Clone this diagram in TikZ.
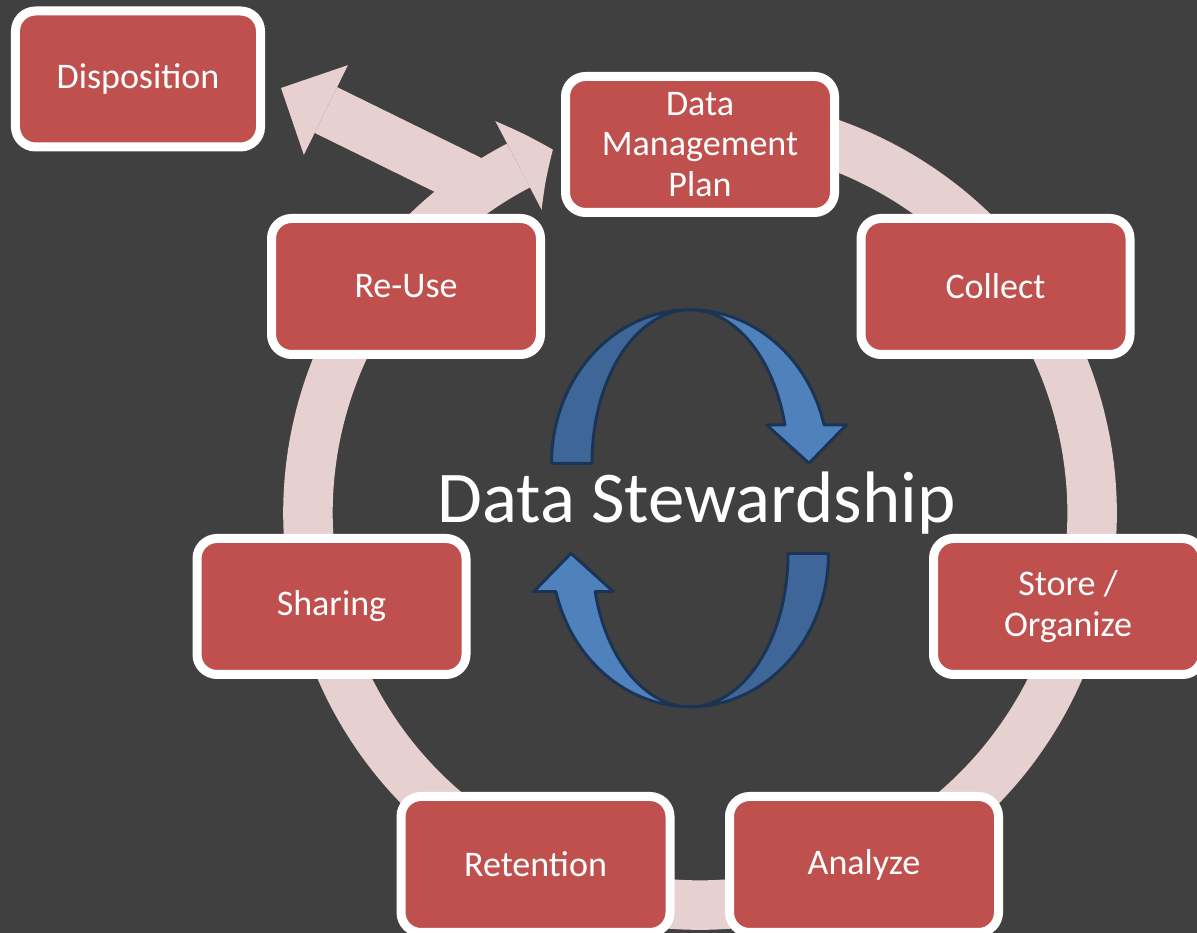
\documentclass[tikz,border=0pt]{standalone}
\usepackage{fontspec}
\setmainfont{Carlito}
\usepackage{tikz}
\usetikzlibrary{positioning,arrows.meta,bending}
\definecolor{slide}{RGB}{64,64,64}
\definecolor{boxred}{RGB}{192,80,77}
\definecolor{ringpink}{RGB}{230,208,208}
\definecolor{swirllight}{RGB}{79,129,189}
\definecolor{swirldark}{RGB}{62,102,153}
\definecolor{swirlline}{RGB}{28,52,84}
\tikzset{
  stagebox/.style={draw=white, line width=0.18cm, fill=boxred, rounded corners=0.4cm,
    minimum width=5.38cm, minimum height=2.72cm, inner sep=0pt, align=center,
    text=white, font=\fontsize{20.5}{23}\selectfont},
  ring/.style={draw=ringpink, line width=0.99cm,
    -{Triangle[length=0.76cm,width=2cm,line width=0pt,bend]}},
  branch/.style={draw=ringpink, line width=1.02cm,
    -{Triangle[length=1cm,width=2cm,line width=0pt]}},
  swirl/.style={draw=swirlline, line width=0.06cm, line join=round},
  title/.style={text=white, font=\fontsize{41.5}{48}\selectfont, inner sep=0pt}
}

\begin{document}
\begin{tikzpicture}[node distance=3cm, on grid]
  \useasboundingbox (0,0) rectangle (23.94,18.66);
  \fill[slide] (0,0) rectangle (23.94,18.66);

  % ring round the stages
  \coordinate (hub) at (14.00,8.40);
  \draw[ring] ([shift={(105:7.84)}]hub) arc[start angle=105, end angle=-247.95, radius=7.84cm];

  % stages
  \node[stagebox]                     (b_0) at (14.00,15.77)                       {Data\\Management\\Plan};
  \node[stagebox]                     (b_6) [below left=2.84cm and 5.88cm of b_0]  {Re-Use};
  \node[stagebox]                     (b_1) [right=11.79cm of b_6]                 {Collect};
  \node[stagebox]                     (b_5) [below left=6.40cm and 1.49cm of b_6]  {Sharing};
  \node[stagebox]                     (b_2) [right=14.73cm of b_5]                 {Store /\\Organize};
  \node[stagebox]                     (b_4) [below right=5.16cm and 4.08cm of b_5] {Retention};
  \node[stagebox]                     (b_3) [right=6.57cm of b_4]                  {Analyze};
  \node[stagebox,minimum width=4.9cm] (b_7) [above left=1.31cm and 11.24cm of b_0] {Disposition};

  % branch off to disposition
  \coordinate (fork) at (9.57,14.96);
  \coordinate[below right=0.18cm and 0.32cm of b_7.east] (b_7in);
  \draw[branch] (fork) -- (b_7in);

  % the two curved arrows in the middle
  \foreach \rot in {0,180} {
    \begin{scope}[shift={(13.80,8.494)}, rotate=\rot]
      \filldraw[swirl, fill=swirldark] (-2.77,0.9)
        arc[start angle=180, end angle=90, x radius=2.77cm, y radius=3.07cm]
        arc[start angle=90, end angle=180, x radius=1.96cm, y radius=3.07cm] -- cycle;
      \filldraw[swirl, fill=swirllight] (0,3.97)
        arc[start angle=90, end angle=14.5, x radius=2.77cm, y radius=3.07cm]
        -- (3.13,1.669) -- (2.38,0.9) -- (1.53,1.669) -- (1.897,1.669)
        arc[start angle=14.5, end angle=90, x radius=1.96cm, y radius=3.07cm] -- cycle;
    \end{scope}
  }

  \node[title, anchor=base] (title) at (13.93,8.20) {Data Stewardship};
\end{tikzpicture}
\end{document}
